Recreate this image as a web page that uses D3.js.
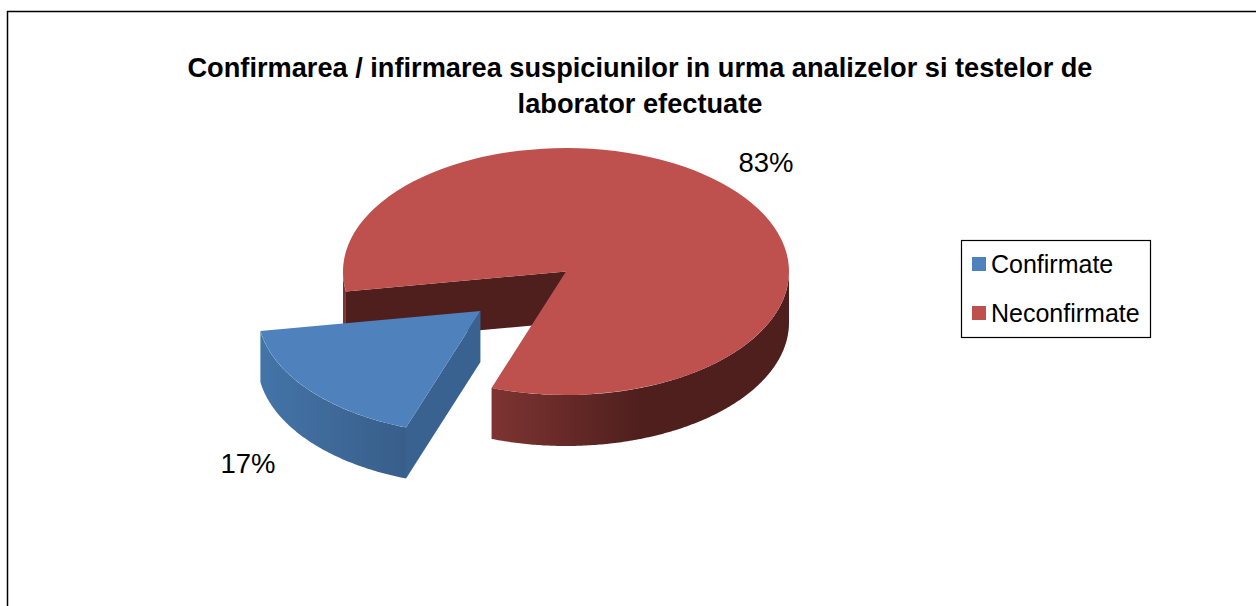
<!DOCTYPE html>
<html>
<head>
<meta charset="utf-8">
<script src="https://cdn.jsdelivr.net/npm/d3@7"></script>
<style>
  html, body { margin: 0; padding: 0; background: #fff; overflow: hidden; }
  text { font-family: "Liberation Sans", Arial, sans-serif; fill: #000; }
</style>
</head>
<body>
<div id="chart"></div>
<script>
var categories = ["Confirmate", "Neconfirmate"];
var values = [17, 83];
var titleLines = ["Confirmarea / infirmarea suspiciunilor in urma analizelor si testelor de", "laborator efectuate"];

var svgWidth = 1256, svgHeight = 606;
var cx = 566, cy = 271.5, rx = 223, ry = 123.5, depth = 51;
var explode = 0.5;
var deg = Math.PI / 180;

var svg = d3.select("#chart").append("svg")
    .attr("width", svgWidth)
    .attr("height", svgHeight)
    .style("display", "block");

// chart frame, bottom runs off the page
svg.append("rect")
    .attr("x", 7.5).attr("y", 11.5)
    .attr("width", 1300).attr("height", 700)
    .attr("fill", "#fff").attr("stroke", "#000").attr("stroke-width", 1.5);

svg.selectAll(".title")
    .data(titleLines)
    .enter()
    .append("text")
    .attr("class", "title")
    .attr("x", 640)
    .attr("y", function(d, i) { return 76.5 + i * 36; })
    .attr("text-anchor", "middle")
    .attr("font-size", 27.2)
    .attr("font-weight", "bold")
    .text(function(d) { return d; });

// gradients on the rim, in the slice's own coordinates
var defs = svg.append("defs");
function rimGradient(id, x1, x2, c1, c2) {
    var g = defs.append("linearGradient")
        .attr("id", id)
        .attr("gradientUnits", "userSpaceOnUse")
        .attr("x1", x1).attr("x2", x2).attr("y1", 0).attr("y2", 0);
    g.append("stop").attr("offset", 0).attr("stop-color", c1);
    g.append("stop").attr("offset", 1).attr("stop-color", c2);
}
rimGradient("rimRed", -76, 76, "#7e3432", "#4e1f1d");
rimGradient("rimBlue", -219, -76, "#4374a8", "#395e8a");

var colors = { top: ["#4f81bd", "#be504d"], rim: ["url(#rimBlue)", "url(#rimRed)"], cut: ["#3a6290", "#4e1f1d"] };

var pie = d3.pie().sort(null).startAngle(199.5 * deg).endAngle(559.5 * deg);
var slices = pie(values);

var x = d3.scaleLinear().domain([-1, 1]).range([-rx, rx]);
var y = d3.scaleLinear().domain([-1, 1]).range([-ry, ry]);

function px(a) { return x(Math.sin(a)); }
function py(a) { return y(-Math.cos(a)); }

var arc = d3.arc().innerRadius(0).outerRadius(rx);
var rim = d3.area()
    .x(function(a) { return px(a); })
    .y0(function(a) { return py(a); })
    .y1(function(a) { return py(a) + depth; });
var line = d3.line();

// a front facing stretch of the rim, clipped to the slice angles
function rimAngles(d, from, to) {
    var a0 = Math.max(d.startAngle, from), a1 = Math.min(d.endAngle, to);
    if (a1 <= a0) return null;
    return d3.range(a0, a1, 0.01).concat([a1]);
}

// red slice first, blue sits in front of it
[1, 0].forEach(function(i) {
    var d = slices[i];
    var mid = (d.startAngle + d.endAngle) / 2;
    var off = i === 0 ? explode : 0;
    var g = svg.append("g")
        .attr("transform", "translate(" + (cx + x(Math.sin(mid)) * off) + "," + (cy + y(-Math.cos(mid)) * off) + ")");

    // rim runs on both sides of the bottom of the ellipse
    [[90, 270], [450, 630]].forEach(function(range) {
        var angles = rimAngles(d, range[0] * deg, range[1] * deg);
        if (angles) {
            g.append("path")
                .attr("d", rim(angles))
                .attr("fill", colors.rim[i]);
        }
    });

    // cut face that turns to the viewer
    g.append("path")
        .attr("d", line([
            [0, 0],
            [px(d.startAngle), py(d.startAngle)],
            [px(d.startAngle), py(d.startAngle) + depth],
            [0, depth]
        ]) + "Z")
        .attr("fill", colors.cut[i]);

    g.append("path")
        .attr("d", arc(d))
        .attr("transform", "scale(1," + (ry / rx) + ")")
        .attr("fill", colors.top[i]);
});

svg.selectAll(".pct")
    .data(slices)
    .enter()
    .append("text")
    .attr("class", "pct")
    .attr("x", function(d, i) { return [248, 766][i]; })
    .attr("y", function(d, i) { return [473, 172][i]; })
    .attr("text-anchor", "middle")
    .attr("font-size", 27.5)
    .text(function(d) { return d.value + "%"; });

// legend
var legend = svg.append("g");
legend.append("rect")
    .attr("x", 961.5).attr("y", 240.5)
    .attr("width", 189).attr("height", 97)
    .attr("fill", "#fff").attr("stroke", "#000").attr("stroke-width", 1.2);

var legendY = d3.scalePoint().domain(categories).range([264, 313]);
var items = legend.selectAll(".item")
    .data(categories)
    .enter()
    .append("g")
    .attr("class", "item")
    .attr("transform", function(d) { return "translate(972," + legendY(d) + ")"; });
items.append("rect")
    .attr("x", 0).attr("y", -7)
    .attr("width", 14).attr("height", 14)
    .attr("fill", function(d, i) { return colors.top[i]; });
items.append("text")
    .attr("x", 19).attr("y", 8.5)
    .attr("font-size", 25)
    .text(function(d) { return d; });
</script>
</body>
</html>
